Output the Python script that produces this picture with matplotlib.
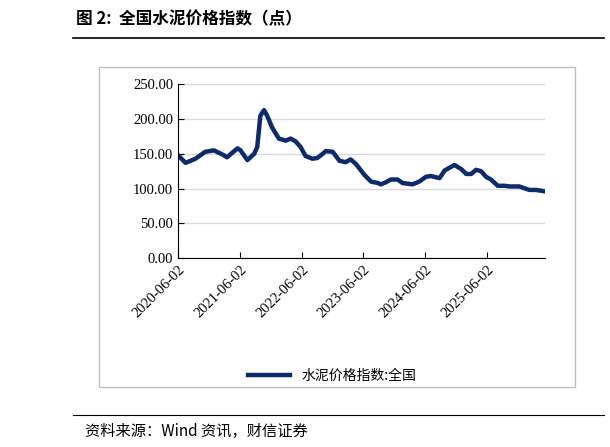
import numpy as np
import pandas as pd
import matplotlib.pyplot as plt

plt.rcParams['font.family'] = ['Noto Sans CJK SC', 'DejaVu Sans']

# Approximate readings: years after 2020-06-02 and index value
yearsOffset = [0.00, 0.12, 0.28, 0.44, 0.58, 0.74, 0.79, 0.96, 1.01, 1.12, 1.23, 1.28,
               1.33, 1.39, 1.44, 1.52, 1.63, 1.74, 1.82, 1.90, 1.98, 2.06, 2.17, 2.25,
               2.31, 2.39, 2.50, 2.61, 2.71, 2.79, 2.88, 3.01, 3.12, 3.23, 3.28, 3.36,
               3.44, 3.55, 3.63, 3.79, 3.90, 4.01, 4.09, 4.23, 4.31, 4.47, 4.58, 4.66,
               4.74, 4.82, 4.90, 4.98, 5.06, 5.17, 5.28, 5.36, 5.52, 5.68, 5.79, 5.93]
indexValues = [148, 137, 143, 153, 155, 148, 145, 158, 155, 141, 150, 160,
               205, 213, 205, 188, 172, 169, 172, 168, 160, 147, 143, 144,
               148, 154, 153, 140, 138, 142, 135, 120, 110, 108, 106, 109,
               113, 113, 108, 106, 110, 117, 118, 115, 126, 134, 128, 121,
               121, 127, 125, 117, 113, 104, 104, 103, 103, 98, 98, 96]

startDate = pd.Timestamp("2020-06-02")
dates = [startDate + pd.Timedelta(days=y * 365.25) for y in yearsOffset]
tickDates = [pd.Timestamp(f"{y}-06-02") for y in range(2020, 2026)]

fig = plt.figure(figsize=(6.10, 4.47), dpi=100)
ax = fig.add_axes([0.292, 0.423, 0.601, 0.388])

ax.plot(dates, indexValues, color="#0d2a6b", linewidth=3.2, label="水泥价格指数:全国")
ax.set_ylim(0, 250)
ax.set_yticks(np.arange(0, 251, 50))
ax.set_yticklabels([f"{v:.2f}" for v in np.arange(0, 251, 50)], family="Liberation Serif", fontsize=10.5)
ax.set_xlim(startDate, dates[-1])
ax.set_xticks(tickDates)
ax.set_xticklabels([d.strftime("%Y-%m-%d") for d in tickDates], rotation=45, ha="right",
                   rotation_mode="anchor", family="Liberation Serif", fontsize=10.5)
ax.grid(True, axis="y", color="#d9d9d9", linewidth=1)
ax.set_axisbelow(True)
for s in ["top", "right"]:
    ax.spines[s].set_visible(False)
ax.tick_params(axis="x", direction="in", length=4)
ax.tick_params(axis="y", direction="in", length=4)

ax.legend(loc="upper center", bbox_to_anchor=(0.42, -0.57), frameon=False, fontsize=10,
          handlelength=3)

# Outer chart frame
frame = plt.Rectangle((0.162, 0.134), 0.78, 0.717, transform=fig.transFigure,
                      fill=False, edgecolor="#bfbfbf", linewidth=1)
fig.add_artist(frame)

fig.text(0.125, 0.945, "图 2:  全国水泥价格指数（点）", fontsize=12, fontweight="bold")
fig.add_artist(plt.Line2D([0.12, 0.99], [0.915, 0.915], transform=fig.transFigure,
                          color="black", linewidth=1.2))
fig.add_artist(plt.Line2D([0.12, 0.99], [0.072, 0.072], transform=fig.transFigure,
                          color="black", linewidth=0.8))
fig.text(0.14, 0.025, "资料来源：Wind 资讯，财信证券", fontsize=11, style="italic")

fig.savefig("out.png", dpi=100)
